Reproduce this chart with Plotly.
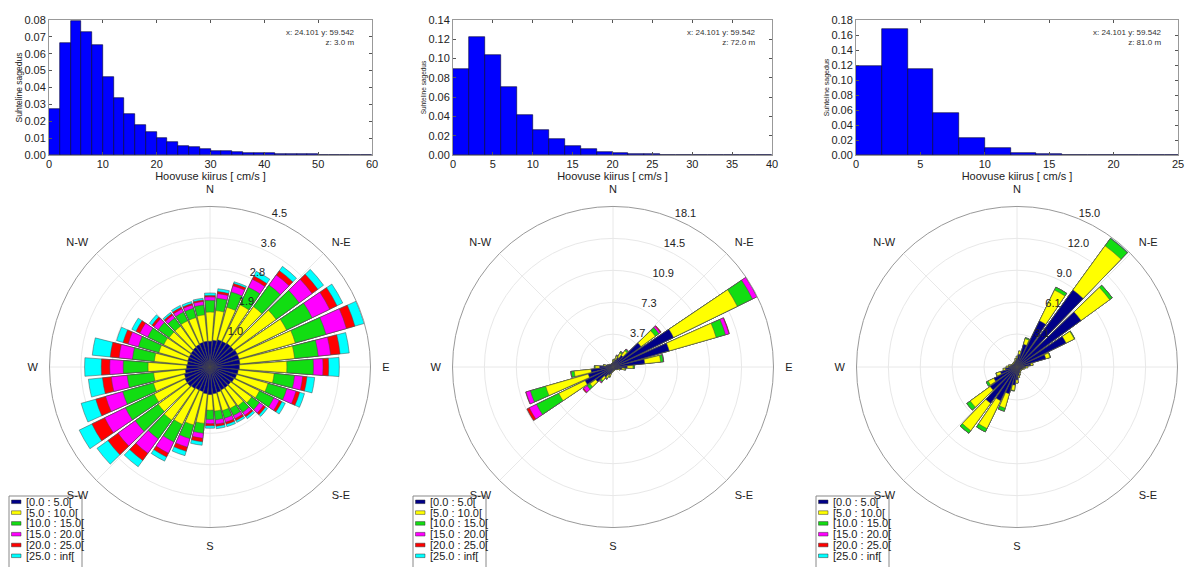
import plotly.graph_objects as go

W, H = 1189, 567
FONT = "Liberation Sans, Arial, sans-serif"

# ---------------- histogram data (relative frequency, bin width 2 cm/s) -------------
h1_left = [0, 2, 4, 6, 8, 10, 12, 14, 16, 18, 20, 22, 24, 26, 28, 30, 32, 34, 36, 38,
           40, 42, 44, 46, 48, 50, 52, 54, 56, 58]
h1_freq = [0.0270, 0.0666, 0.0796, 0.0727, 0.0654, 0.0460, 0.0340, 0.0244, 0.0177, 0.0136,
           0.0102, 0.0079, 0.0055, 0.0047, 0.0035, 0.0022, 0.0022, 0.0016, 0.0012, 0.0010,
           0.0010, 0.0008, 0.0006, 0.0004, 0.0003, 0.0002, 0.0001, 0.0001, 0.0000, 0.0000]

h2_left = [0, 2, 4, 6, 8, 10, 12, 14, 16, 18, 20, 22, 24, 26, 28, 30, 32, 34, 36, 38]
h2_freq = [0.0897, 0.1228, 0.1038, 0.0710, 0.0414, 0.0255, 0.0166, 0.0097, 0.0062, 0.0034,
           0.0017, 0.0010, 0.0007, 0.0003, 0.0002, 0.0001, 0.0, 0.0, 0.0, 0.0]

h3_left = [0, 2, 4, 6, 8, 10, 12, 14, 16, 18, 20, 22, 24]
h3_freq = [0.1190, 0.1676, 0.1148, 0.0559, 0.0230, 0.0093, 0.0031, 0.0013, 0.0004, 0.0001,
           0.0, 0.0, 0.0]

hist_xticks = [[0, 10, 20, 30, 40, 50, 60], [0, 5, 10, 15, 20, 25, 30, 35, 40], [0, 5, 10, 15, 20, 25]]
hist_yticks = [[0.00, 0.01, 0.02, 0.03, 0.04, 0.05, 0.06, 0.07, 0.08],
               [0.00, 0.02, 0.04, 0.06, 0.08, 0.10, 0.12, 0.14],
               [0.00, 0.02, 0.04, 0.06, 0.08, 0.10, 0.12, 0.14, 0.16, 0.18]]
hist_xmax = [60, 40, 25]
hist_ymax = [0.08, 0.14, 0.18]
station_text = ["x: 24.101 y: 59.542<br>z: 3.0 m", "x: 24.101 y: 59.542<br>z: 72.0 m",
                "x: 24.101 y: 59.542<br>z: 81.0 m"]

# ---------------- current roses: cumulative frequency (%) below upper speed bound ----
dirs = [0, 10, 20, 30, 40, 50, 60, 70, 80, 90, 100, 110, 120, 130, 140, 150, 160, 170,
        180, 190, 200, 210, 220, 230, 240, 250, 260, 270, 280, 290, 300, 310, 320, 330, 340, 350]

r1_lt5 = [0.73, 0.76, 0.80, 0.80, 0.82, 0.82, 0.85, 0.85, 0.85, 0.83, 0.80, 0.78, 0.75, 0.72, 0.72, 0.72, 0.74, 0.76,
          0.78, 0.76, 0.72, 0.72, 0.75, 0.78, 0.78, 0.75, 0.70, 0.66, 0.64, 0.65, 0.65, 0.66, 0.68, 0.70, 0.72, 0.73]
r1_lt10 = [1.55, 1.60, 1.75, 1.95, 2.10, 2.30, 2.40, 2.50, 2.40, 2.17, 1.82, 1.70, 1.55, 1.45, 1.35, 1.30, 1.28, 1.25,
           1.22, 1.60, 1.70, 1.80, 1.85, 1.80, 1.75, 1.66, 1.60, 1.75, 1.58, 1.50, 1.45, 1.42, 1.42, 1.45, 1.45, 1.48]
r1_lt15 = [1.88, 1.95, 2.20, 2.50, 2.85, 3.10, 3.20, 3.40, 3.07, 2.92, 2.40, 2.25, 2.00, 1.72, 1.58, 1.52, 1.50, 1.50,
           1.48, 1.88, 2.10, 2.35, 2.50, 2.60, 2.65, 2.56, 2.35, 2.45, 2.20, 2.10, 1.95, 1.80, 1.70, 1.72, 1.72, 1.76]
r1_lt20 = [1.98, 2.08, 2.38, 2.75, 3.20, 3.55, 3.75, 4.00, 3.42, 3.19, 2.63, 2.52, 2.17, 1.86, 1.68, 1.62, 1.62, 1.62,
           1.60, 2.02, 2.35, 2.70, 3.00, 3.20, 3.30, 3.06, 2.80, 2.83, 2.58, 2.40, 2.20, 1.95, 1.80, 1.82, 1.82, 1.86]
r1_lt25 = [2.02, 2.14, 2.45, 2.85, 3.35, 3.75, 3.98, 4.25, 3.69, 3.35, 2.75, 2.63, 2.25, 1.93, 1.73, 1.68, 1.68, 1.68,
           1.66, 2.12, 2.47, 2.82, 3.25, 3.55, 3.70, 3.35, 3.05, 3.07, 2.83, 2.55, 2.32, 2.02, 1.85, 1.87, 1.86, 1.90]
r1_all = [2.09, 2.22, 2.50, 3.00, 3.50, 3.95, 4.16, 4.52, 3.95, 3.65, 2.97, 2.77, 2.36, 2.00, 1.80, 1.74, 1.75, 1.75,
          1.73, 2.22, 2.60, 2.95, 3.47, 3.93, 4.10, 3.78, 3.45, 3.54, 3.34, 2.74, 2.45, 2.11, 1.90, 1.93, 1.92, 1.95]

r2_lt5 = [0.50, 0.60, 0.85, 1.20, 1.60, 3.90, 7.60, 6.60, 3.60, 1.60, 1.00, 0.60, 0.45, 0.40, 0.35, 0.35, 0.35, 0.35,
          0.40, 0.50, 0.80, 1.00, 1.40, 2.40, 3.50, 2.90, 2.50, 1.50, 0.80, 0.55, 0.45, 0.40, 0.35, 0.35, 0.35, 0.40]
r2_lt10 = [0.75, 0.85, 1.25, 1.75, 2.25, 5.90, 15.6, 12.1, 5.40, 2.25, 1.35, 0.80, 0.55, 0.45, 0.40, 0.40, 0.40, 0.40,
           0.50, 0.60, 1.10, 1.40, 1.90, 3.20, 6.80, 7.90, 4.40, 2.00, 1.05, 0.65, 0.50, 0.45, 0.40, 0.40, 0.40, 0.45]
r2_lt15 = [0.80, 0.90, 1.35, 1.90, 2.45, 6.40, 17.5, 13.2, 5.70, 2.40, 1.45, 0.85, 0.55, 0.45, 0.40, 0.40, 0.40, 0.40,
           0.50, 0.60, 1.20, 1.50, 2.10, 3.60, 9.60, 9.70, 4.75, 2.10, 1.10, 0.65, 0.50, 0.45, 0.40, 0.40, 0.40, 0.45]
r2_lt20 = [0.80, 0.90, 1.40, 1.95, 2.50, 6.60, 18.05, 13.6, 5.75, 2.40, 1.45, 0.85, 0.55, 0.45, 0.40, 0.40, 0.40, 0.40,
           0.50, 0.60, 1.20, 1.55, 2.20, 4.10, 10.5, 10.2, 4.80, 2.10, 1.10, 0.65, 0.50, 0.45, 0.40, 0.40, 0.40, 0.45]
r2_lt25 = [0.80, 0.90, 1.40, 1.95, 2.50, 6.70, 18.05, 13.65, 5.75, 2.40, 1.45, 0.85, 0.55, 0.45, 0.40, 0.40, 0.40, 0.40,
           0.50, 0.60, 1.20, 1.55, 2.20, 4.20, 10.8, 10.25, 4.80, 2.10, 1.10, 0.65, 0.50, 0.45, 0.40, 0.40, 0.40, 0.45]
r2_all = [0.80, 0.90, 1.40, 1.95, 2.50, 6.70, 18.05, 13.65, 5.75, 2.40, 1.45, 0.85, 0.55, 0.45, 0.40, 0.40, 0.40, 0.40,
          0.50, 0.60, 1.20, 1.55, 2.20, 4.20, 10.8, 10.25, 4.80, 2.10, 1.10, 0.65, 0.50, 0.45, 0.40, 0.40, 0.40, 0.45]

r3_lt5 = [0.80, 1.20, 2.20, 4.80, 8.90, 7.40, 5.10, 2.80, 1.30, 0.80, 0.60, 0.50, 0.40, 0.40, 0.40, 0.50, 0.60, 0.80,
          1.20, 1.70, 2.60, 3.50, 4.20, 3.10, 2.40, 1.60, 1.10, 0.80, 0.60, 0.50, 0.40, 0.40, 0.40, 0.45, 0.50, 0.60]
r3_lt10 = [1.00, 1.50, 2.75, 8.00, 14.0, 10.7, 5.95, 3.20, 1.50, 1.00, 0.75, 0.60, 0.50, 0.50, 0.50, 0.60, 0.80, 1.00,
           1.50, 2.20, 4.00, 6.40, 7.35, 5.40, 3.00, 2.00, 1.30, 1.00, 0.80, 0.60, 0.50, 0.50, 0.50, 0.55, 0.60, 0.80]
r3_lt15 = [1.00, 1.50, 2.85, 8.30, 14.85, 11.0, 6.00, 3.25, 1.50, 1.00, 0.75, 0.60, 0.50, 0.50, 0.50, 0.60, 0.80, 1.00,
           1.50, 2.25, 4.30, 6.75, 7.65, 5.80, 3.20, 2.05, 1.30, 1.00, 0.80, 0.60, 0.50, 0.50, 0.50, 0.55, 0.60, 0.80]
r3_lt20 = r3_lt15
r3_lt25 = r3_lt15
r3_all = [1.00, 1.50, 2.85, 8.30, 14.9, 11.0, 6.00, 3.25, 1.50, 1.00, 0.75, 0.60, 0.50, 0.50, 0.50, 0.60, 0.80, 1.00,
          1.50, 2.25, 4.30, 6.75, 7.65, 5.80, 3.20, 2.05, 1.30, 1.00, 0.80, 0.60, 0.50, 0.50, 0.50, 0.55, 0.60, 0.80]

rose_series = [
    [r1_lt5, r1_lt10, r1_lt15, r1_lt20, r1_lt25, r1_all],
    [r2_lt5, r2_lt10, r2_lt15, r2_lt20, r2_lt25, r2_all],
    [r3_lt5, r3_lt10, r3_lt15, r3_lt20, r3_lt25, r3_all],
]
rose_rmax = [4.53, 18.1, 15.0]
rose_rtickvals = [[0.986, 1.872, 2.758, 3.644, 4.53],
                  [3.7, 7.3, 10.9, 14.5, 18.1],
                  [3.08, 6.06, 9.04, 12.02, 15.0]]
rose_rticktext = [["1.0", "1.9", "2.8", "3.6", "4.5"],
                  ["3.7", "7.3", "10.9", "14.5", "18.1"],
                  ["3.1", "6.1", "9.0", "12.0", "15.0"]]
rose_width = [8.5, 8.0, 8.0]
compass_vals = [0, 45, 90, 135, 180, 225, 270, 315]
compass_text = ["N", "N-E", "E", "S-E", "S", "S-W", "W", "N-W"]

bin_labels = ["[0.0 : 5.0[", "[5.0 : 10.0[", "[10.0 : 15.0[", "[15.0 : 20.0[", "[20.0 : 25.0[", "[25.0 : inf["]
bin_colors = ["#000088", "#ffff00", "#12dd12", "#ff00ff", "#ff0000", "#00ffff"]

# ---------------- layout geometry (pixels) ----------------
hist_px = [(49, 372), (453, 772), (856, 1178)]
hist_top, hist_bot = 20, 155
rose_cx = [210, 613, 1017]
rose_cy, rose_R = 367, 160.5
legend_left = [9, 413, 816]
ytitle_size = [8.5, 6.5, 7]

fig = go.Figure()
layout = dict(width=W, height=H, margin=dict(l=0, r=0, t=0, b=0),
              paper_bgcolor="white", plot_bgcolor="white",
              font=dict(family=FONT, size=11, color="#222"), showlegend=False)
annotations, shapes = [], []

hist_data = [(h1_left, h1_freq), (h2_left, h2_freq), (h3_left, h3_freq)]
for i, (left, freq) in enumerate(hist_data):
    sfx = "" if i == 0 else str(i + 1)
    fig.add_trace(go.Bar(x=left, y=freq, width=2, offset=0,
                         marker=dict(color="#0000ff", line=dict(color="#000033", width=0.6)),
                         xaxis="x" + sfx, yaxis="y" + sfx))
    x0, x1 = hist_px[i]
    layout["xaxis" + sfx] = dict(
        domain=[x0 / W, x1 / W], anchor="y" + sfx, range=[0, hist_xmax[i]],
        tickvals=hist_xticks[i], ticks="inside", ticklen=3, tickcolor="#555",
        showline=True, linecolor="#999", mirror="ticks", showgrid=False, zeroline=False,
        tickfont=dict(size=11), ticklabelstandoff=-1,
        title=dict(text="Hoovuse kiirus [ cm/s ]", font=dict(size=11), standoff=0),
        automargin=False)
    layout["yaxis" + sfx] = dict(
        domain=[1 - hist_bot / H, 1 - hist_top / H], anchor="x" + sfx, range=[0, hist_ymax[i]],
        tickvals=hist_yticks[i], tickformat=".2f", ticks="inside", ticklen=3, tickcolor="#555",
        showline=True, linecolor="#999", mirror="ticks", showgrid=False, zeroline=False,
        tickfont=dict(size=11), title=dict(text="Suhteline sagedus", font=dict(size=ytitle_size[i]), standoff=0),
        automargin=False)
    annotations.append(dict(text=station_text[i], xref="x" + sfx + " domain", yref="y" + sfx + " domain",
                            x=0.955, y=0.955, xanchor="right", yanchor="top", align="right",
                            showarrow=False, font=dict(size=8, color="#333")))

layout["bargap"] = 0

for i in range(3):
    pname = "polar" if i == 0 else "polar" + str(i + 1)
    for k in range(5, -1, -1):
        fig.add_trace(go.Barpolar(r=rose_series[i][k], theta=dirs, width=rose_width[i],
                                  marker=dict(color=bin_colors[k], line=dict(color="#4a4a4a", width=0.5)),
                                  name=bin_labels[k], subplot=pname))
    cx = rose_cx[i]
    layout[pname] = dict(
        domain=dict(x=[(cx - rose_R) / W, (cx + rose_R) / W],
                    y=[1 - (rose_cy + rose_R) / H, 1 - (rose_cy - rose_R) / H]),
        bgcolor="white", barmode="overlay",
        angularaxis=dict(rotation=90, direction="clockwise", tickmode="array",
                         tickvals=compass_vals, ticktext=compass_text, ticks="outside",
                         ticklen=9, tickcolor="rgba(0,0,0,0)", showline=True, linecolor="#999",
                         linewidth=1, showgrid=True, gridcolor="#e8e8e8", gridwidth=1,
                         tickfont=dict(size=11, color="#222")),
        radialaxis=dict(range=[0, rose_rmax[i]], tickmode="array", tickvals=rose_rtickvals[i],
                        ticktext=[t + "<br> " for t in rose_rticktext[i]], angle=69.5, tickangle=69.5,
                        showline=False, ticks="",
                        showgrid=True, gridcolor="#e8e8e8", gridwidth=1,
                        tickfont=dict(size=11, color="#222")),
    )
    # legend box
    lx = legend_left[i]
    shapes.append(dict(type="rect", xref="paper", yref="paper", x0=lx / W, x1=(lx + 73) / W,
                       y0=1 - 496 / H, y1=-0.05, line=dict(color="#888", width=1),
                       fillcolor="white", layer="below"))
    for k in range(6):
        yc = 501.8 + 10.8 * k
        shapes.append(dict(type="rect", xref="paper", yref="paper", x0=(lx + 2.5) / W, x1=(lx + 12) / W,
                           y0=1 - (yc + 1.8) / H, y1=1 - (yc - 1.8) / H,
                           line=dict(color="#333", width=0.5), fillcolor=bin_colors[k], layer="below"))
        annotations.append(dict(text=bin_labels[k], xref="paper", yref="paper", x=(lx + 15) / W,
                                y=1 - yc / H, xanchor="left", yanchor="middle", showarrow=False,
                                font=dict(size=11, color="#222")))

layout["annotations"] = annotations
layout["shapes"] = shapes
fig.update_layout(**layout)
fig.write_html("out.html")
